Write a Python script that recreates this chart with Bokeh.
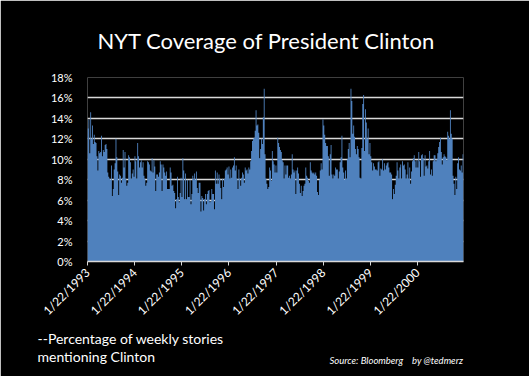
import datetime as dt
from bokeh.plotting import figure
from bokeh.models import FixedTicker, PrintfTickFormatter, Range1d, Title
from bokeh.embed import file_html
from bokeh.resources import INLINE

# Weekly share (%) of NYT stories mentioning Clinton, weeks starting 1/22/1993
pct_1993 = [13.0, 13.9, 10.6, 14.6, 12.0, 13.3, 11.5, 12.4, 11.7, 11.6,
            10.3, 8.9, 10.8, 10.6, 10.7, 12.3, 10.3, 10.9, 10.7, 11.4,
            11.5, 11.0, 8.7, 8.3, 8.1, 8.0, 9.4, 6.4, 7.1, 9.0,
            9.6, 12.0, 10.2, 8.8, 6.5, 8.5, 8.4, 7.7, 8.2, 10.9,
            9.2, 10.7, 8.1, 7.4, 7.7, 10.4, 10.2, 9.7, 8.1, 8.6,
            9.0, 8.3]
pct_1994 = [10.3, 9.8, 8.1, 11.6, 10.3, 9.2, 9.7, 9.9, 9.2, 9.7,
            8.4, 8.1, 7.4, 7.7, 9.8, 9.7, 9.5, 8.9, 8.8, 10.1,
            8.7, 9.9, 9.3, 6.9, 8.5, 8.5, 8.3, 8.7, 9.8, 9.5,
            6.9, 9.5, 9.2, 8.7, 8.4, 8.8, 7.1, 7.1, 7.1, 9.2,
            8.7, 7.4, 7.5, 6.9, 6.7, 5.2, 6.1, 8.3, 6.3, 5.8,
            6.7, 8.2]
pct_1995 = [6.3, 10.1, 8.9, 6.1, 8.6, 6.1, 8.0, 6.3, 6.3, 8.0,
            5.6, 6.6, 8.4, 8.1, 8.6, 8.0, 8.8, 7.2, 6.7, 7.7,
            7.7, 4.9, 6.4, 6.2, 5.0, 6.1, 6.6, 5.6, 6.6, 6.9,
            7.0, 5.8, 5.9, 7.1, 6.6, 6.6, 5.1, 8.9, 7.6, 8.7,
            7.6, 8.5, 8.1, 7.2, 6.1, 8.1, 7.3, 8.1, 8.9, 9.0,
            9.2, 8.5]
pct_1996 = [9.3, 8.1, 9.0, 8.2, 9.2, 9.4, 10.2, 8.9, 9.4, 8.1,
            7.1, 9.0, 8.1, 7.4, 8.2, 8.7, 8.5, 7.7, 9.2, 8.9,
            9.0, 8.6, 9.2, 9.0, 9.8, 10.8, 11.8, 12.0, 12.1, 12.8,
            14.8, 13.3, 13.4, 12.6, 10.1, 11.0, 12.0, 11.5, 14.1, 16.9,
            10.5, 8.1, 7.6, 7.1, 7.3, 9.2, 8.9, 7.9, 10.8, 9.8,
            9.5, 8.7]
pct_1997 = [9.4, 8.7, 12.1, 11.6, 11.2, 10.9, 10.7, 9.9, 9.7, 8.1,
            9.4, 8.5, 9.4, 9.4, 8.2, 8.4, 8.1, 8.5, 10.5, 9.0,
            8.7, 8.9, 6.6, 8.9, 9.2, 8.6, 7.6, 6.7, 7.4, 6.4,
            6.9, 7.4, 7.6, 9.2, 8.4, 8.2, 7.9, 7.7, 9.7, 8.9,
            8.7, 8.6, 8.7, 8.5, 8.7, 8.4, 6.8, 6.5, 8.0, 8.9,
            9.6, 9.0]
pct_1998 = [13.9, 13.3, 12.4, 11.6, 11.3, 11.3, 10.3, 8.4, 10.5, 11.4,
            8.5, 8.1, 8.5, 8.4, 9.2, 9.0, 9.0, 8.1, 8.8, 9.7,
            10.2, 12.3, 9.2, 8.7, 8.0, 8.9, 8.1, 10.0, 11.0, 11.6,
            10.2, 16.9, 15.7, 12.5, 13.3, 12.2, 11.0, 10.5, 11.3, 11.0,
            10.2, 8.2, 8.1, 11.1, 15.4, 16.3, 10.8, 14.9, 13.6, 12.0,
            13.0, 10.5]
pct_1999 = [11.6, 10.3, 9.7, 8.9, 9.6, 9.3, 9.0, 9.0, 8.9, 9.7,
            9.8, 8.4, 9.1, 9.0, 10.0, 8.9, 9.6, 9.0, 9.4, 9.6,
            9.7, 9.2, 8.7, 8.7, 8.5, 6.1, 7.1, 6.6, 7.5, 8.4,
            9.7, 8.9, 8.1, 9.2, 9.5, 8.1, 9.8, 9.4, 9.5, 9.0,
            8.1, 8.5, 9.7, 8.1, 9.2, 7.6, 8.8, 9.8, 10.1, 10.4,
            9.8, 9.2]
pct_2000 = [9.9, 9.2, 10.7, 9.8, 8.3, 10.4, 10.5, 10.1, 8.4, 10.4,
            9.3, 9.4, 9.1, 9.8, 10.8, 8.5, 9.0, 8.4, 9.8, 10.4,
            10.4, 9.8, 10.0, 10.6, 11.2, 11.7, 12.1, 10.7, 9.5, 10.2,
            10.5, 10.3, 10.2, 9.9, 12.7, 12.3, 12.0, 14.8, 12.5, 12.0,
            8.4, 7.6, 6.5, 8.3, 7.1, 9.6, 10.2, 9.0, 8.9, 9.4,
            8.7, 10.5]

start_date = dt.date(1993, 1, 22)
tick_years = [1993, 1994, 1995, 1996, 1997, 1998, 1999, 2000]
tick_labels = ["1/22/1993", "1/22/1994", "1/22/1995", "1/22/1996",
               "1/22/1997", "1/22/1998", "1/22/1999", "1/22/2000"]
y_ticks = [0, 2, 4, 6, 8, 10, 12, 14, 16, 18]

values = (pct_1993 + pct_1994 + pct_1995 + pct_1996 +
          pct_1997 + pct_1998 + pct_1999 + pct_2000)
n = len(values)
xs = [7 * i for i in range(n)] + [7 * n]
ys = values + [values[-1]]
x_end = 7 * n

tick_pos = [(dt.date(y, 1, 22) - start_date).days for y in tick_years]

BLUE = "#4F81BD"
GRID = "#D9D9D9"
FONT = "Lato"
NBSP = "\u00a0"

p = figure(width=529, height=376, output_backend="svg", toolbar_location=None,
           x_range=Range1d(0, x_end), y_range=Range1d(0, 18),
           min_border_left=87, min_border_right=66,
           min_border_top=77, min_border_bottom=115,
           background_fill_color="black", border_fill_color="black",
           outline_line_color=None)
p.outline_line_alpha = 0

p.title.text = "NYT Coverage of President Clinton"
p.title.align = "left"
p.title.offset = 10
p.title.vertical_align = "top"
p.title.text_color = "white"
p.title.text_font = FONT
p.title.text_font_size = "22px"
p.title.text_font_style = "normal"
p.title.standoff = 44

p.varea_step(x=xs, y1=[0] * len(xs), y2=ys, step_mode="after",
             fill_color=BLUE)

# y axis
p.yaxis.ticker = FixedTicker(ticks=y_ticks)
p.yaxis.formatter = PrintfTickFormatter(format="%d%%")
p.yaxis.axis_line_color = None
p.yaxis.major_tick_line_color = None
p.yaxis.minor_tick_line_color = None
p.yaxis.major_label_text_color = "white"
p.yaxis.major_label_text_font = FONT
p.yaxis.major_label_text_font_size = "11px"
p.yaxis.major_label_standoff = 9

# x axis
p.xaxis.ticker = FixedTicker(ticks=tick_pos)
p.xaxis.major_label_overrides = {t: lab for t, lab in zip(tick_pos, tick_labels)}
p.xaxis.major_label_orientation = 0.785398
p.xaxis.axis_line_color = GRID
p.xaxis.axis_line_width = 1.5
p.xaxis.major_tick_line_color = GRID
p.xaxis.major_tick_in = 0
p.xaxis.major_tick_out = 4
p.xaxis.minor_tick_line_color = None
p.xaxis.major_label_text_color = "white"
p.xaxis.major_label_text_font = FONT
p.xaxis.major_label_text_font_size = "12px"
p.xaxis.major_label_standoff = 5

p.xgrid.grid_line_color = None
p.ygrid.grid_line_color = GRID
p.ygrid.grid_line_width = 1.5
p.ygrid.ticker = FixedTicker(ticks=y_ticks[1:])

note1 = Title(text="--Percentage of weekly stories", align="left", offset=-50,
              standoff=2, text_color="white", text_font=FONT,
              text_font_size="14px", text_font_style="normal")
note2 = Title(text="mentioning Clinton", align="left", offset=-50,
              standoff=-3, text_color="white", text_font=FONT,
              text_font_size="14px", text_font_style="normal")
source = Title(text="Source: Bloomberg" + NBSP * 4 + "by @tedmerz",
               align="left", offset=242, vertical_align="top",
               standoff=-17, text_color="white", text_font=FONT,
               text_font_size="9.5px", text_font_style="italic")
p.add_layout(note1, "below")
p.add_layout(note2, "below")
p.add_layout(source, "below")

open("out.html", "w").write(file_html(p, INLINE))
